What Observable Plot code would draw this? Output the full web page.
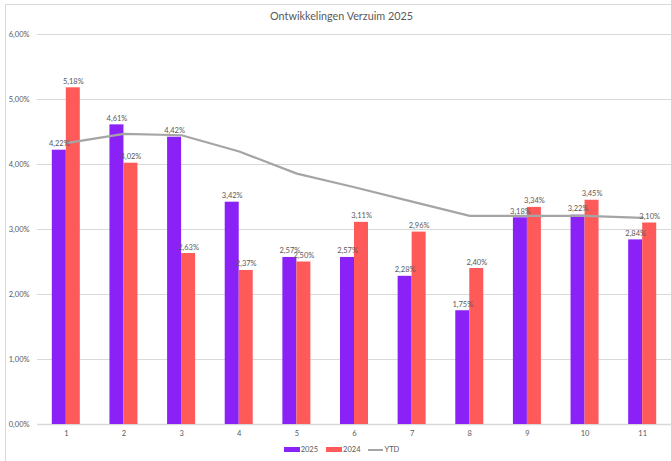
<!DOCTYPE html>
<html>
<head>
<meta charset="utf-8">
<script src="https://cdn.jsdelivr.net/npm/d3@7"></script>
<script src="https://cdn.jsdelivr.net/npm/@observablehq/plot@0.6"></script>
<style>
  html, body { margin: 0; padding: 0; background: #fff; }
  #wrap { position: relative; width: 671px; height: 461px; overflow: hidden; font-family: Lato, "Open Sans", sans-serif; }
  #frame { position: absolute; left: 5px; top: 4px; width: 700px; height: 500px; border: 1px solid #d9d9d9; box-sizing: border-box; }
  #title { position: absolute; top: 9px; left: 0; width: 683px; text-align: center; font-size: 10.8px; color: #595959; }
  #plot { position: absolute; left: 0; top: 0; }
  #legend { position: absolute; top: 445px; left: 0; width: 683px; display: flex; justify-content: center; align-items: center; font-size: 7.5px; color: #595959; }
  .sw { display: inline-block; width: 16px; height: 5px; margin-right: 1px; }
  .ln { display: inline-block; width: 15px; height: 2px; background: #a5a5a5; margin-right: 1px; }
  .item { display: flex; align-items: center; margin: 0 4px; }
</style>
</head>
<body>
<div id="wrap">
  <div id="frame"></div>
  <div id="title"></div>
  <div id="plot"></div>
  <div id="legend"></div>
</div>
<script>
const titleText = "Ontwikkelingen Verzuim 2025";
const months = [1, 2, 3, 4, 5, 6, 7, 8, 9, 10, 11];
const v2025 = [4.22, 4.61, 4.42, 3.42, 2.57, 2.57, 2.28, 1.75, 3.18, 3.22, 2.84];
const v2024 = [5.18, 4.02, 2.63, 2.37, 2.50, 3.11, 2.96, 2.40, 3.34, 3.45, 3.10];
const ytd   = [4.33, 4.47, 4.45, 4.20, 3.86, 3.65, 3.43, 3.21, 3.21, 3.21, 3.18];
const yTicks = [0, 1, 2, 3, 4, 5, 6];
const seriesNames = ["2025", "2024", "YTD"];
const colors = ["#8a22f8", "#ff5a5a", "#a5a5a5"];

const fmt = d => d.toFixed(2).replace(".", ",") + "%";

const d2025 = months.map((m, i) => ({month: m, value: v2025[i]}));
const d2024 = months.map((m, i) => ({month: m, value: v2024[i]}));
const dYtd = months.map((m, i) => ({month: m, value: ytd[i]}));

const W = 671, H = 442, mL = 37, mR = 0, mT = 34, mB = 18;
const bw = (W - mL - mR) / months.length;
const barW = 14;

document.getElementById("title").textContent = titleText;

const chart = Plot.plot({
  width: W,
  height: H,
  marginLeft: mL,
  marginRight: mR,
  marginTop: mT,
  marginBottom: mB,
  style: {fontFamily: "Lato, 'Open Sans', sans-serif", fontSize: "7.5px", color: "#595959", background: "transparent"},
  x: {type: "band", domain: months, padding: 0, round: false, label: null},
  y: {domain: [0, 6], label: null},
  marks: [
    Plot.ruleY(yTicks, {stroke: "#d9d9d9", strokeWidth: 1}),
    Plot.ruleY([0], {stroke: "#d9d9d9", strokeWidth: 1.5}),
    Plot.barY(d2025, {x: "month", y: "value", fill: colors[0], insetLeft: bw / 2 - barW, insetRight: bw / 2}),
    Plot.barY(d2024, {x: "month", y: "value", fill: colors[1], insetLeft: bw / 2, insetRight: bw / 2 - barW}),
    Plot.lineY(dYtd, {x: "month", y: "value", stroke: colors[2], strokeWidth: 2.25}),
    Plot.text(d2025, {x: "month", y: "value", text: d => fmt(d.value), dx: -barW / 2, dy: -4, lineAnchor: "bottom", fill: "#595959", fontSize: 7.5}),
    Plot.text(d2024, {x: "month", y: "value", text: d => fmt(d.value), dx: barW / 2, dy: -4, lineAnchor: "bottom", fill: "#595959", fontSize: 7.5}),
    Plot.axisY({ticks: yTicks, tickFormat: fmt, tickSize: 0, tickPadding: 8, label: null, fill: "#595959"}),
    Plot.axisX({tickSize: 0, tickPadding: 6, label: null, fill: "#595959"})
  ]
});
document.getElementById("plot").appendChild(chart);

const legend = document.getElementById("legend");
seriesNames.forEach((name, i) => {
  const item = document.createElement("span");
  item.className = "item";
  const sw = document.createElement("span");
  if (i < 2) { sw.className = "sw"; sw.style.background = colors[i]; }
  else { sw.className = "ln"; sw.style.background = colors[i]; }
  item.appendChild(sw);
  const t = document.createElement("span");
  t.textContent = name;
  item.appendChild(t);
  legend.appendChild(item);
});
</script>
</body>
</html>
